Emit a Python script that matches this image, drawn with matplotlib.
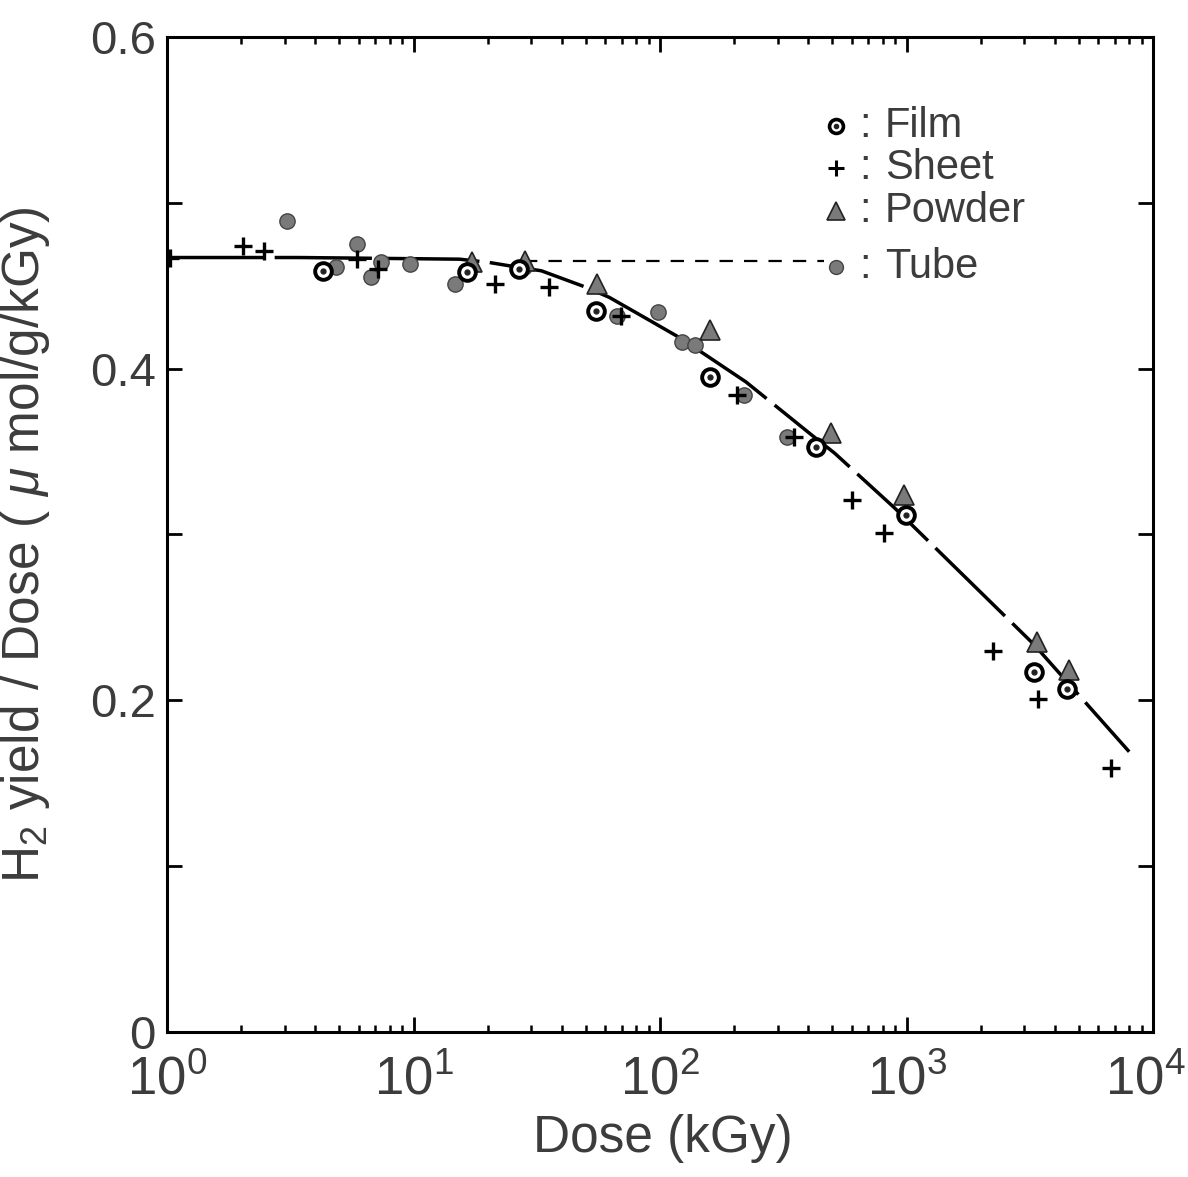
import matplotlib
matplotlib.use("Agg")
import matplotlib.pyplot as plt
from matplotlib import font_manager
import matplotlib.transforms as mtransforms
from matplotlib.ticker import LogLocator, FixedLocator, NullFormatter, FixedFormatter

_names = {f.name for f in font_manager.fontManager.ttflist}
NARROW = 'Liberation Sans Narrow' if 'Liberation Sans Narrow' in _names else 'Liberation Sans'
HAS_NARROW = NARROW == 'Liberation Sans Narrow'

plt.rcParams['font.family'] = ['Liberation Sans', 'DejaVu Sans']
plt.rcParams['mathtext.fontset'] = 'custom'
plt.rcParams['mathtext.rm'] = NARROW
plt.rcParams['mathtext.it'] = 'Liberation Sans:italic'
plt.rcParams['mathtext.default'] = 'regular'

# ---- data ----
film_x = [4.28, 16.5, 26.9, 55.1, 159, 428, 991, 3300, 4490]
film_y = [0.459, 0.458, 0.460, 0.435, 0.395, 0.353, 0.312, 0.217, 0.207]

sheet_x = [1.03, 2.03, 2.47, 5.88, 7.15, 21.5, 35.5, 69.5, 205, 349, 599, 807, 2250, 3420, 6760]
sheet_y = [0.467, 0.474, 0.471, 0.466, 0.460, 0.451, 0.449, 0.432, 0.384, 0.359, 0.321, 0.301, 0.230, 0.201, 0.159]

powder_x = [17.2, 28.4, 55.6, 159, 492, 972, 3390, 4570]
powder_y = [0.464, 0.465, 0.451, 0.423, 0.361, 0.324, 0.235, 0.218]

tube_x = [3.06, 4.83, 5.88, 6.70, 7.35, 9.64, 14.7, 28.1, 67, 98, 123, 139, 219, 327]
tube_y = [0.489, 0.461, 0.475, 0.455, 0.464, 0.463, 0.451, 0.461, 0.432, 0.434, 0.416, 0.414, 0.384, 0.359]

fit_x = [1, 3.45, 15.4, 20.3, 26.9, 33.0, 50.2, 62.2, 88.5, 119, 154, 223, 412, 511, 894, 3270, 8000]
fit_y = [0.467, 0.467, 0.466, 0.464, 0.461, 0.459, 0.449, 0.443, 0.430, 0.419, 0.408, 0.392, 0.360, 0.349, 0.316, 0.234, 0.169]

flat_x = [28.1, 461]
flat_y = [0.465, 0.465]

legend_labels = ['Film', 'Sheet', 'Powder', 'Tube']
y_ticks = [0, 0.1, 0.2, 0.3, 0.4, 0.5, 0.6]
y_ticklabels = ['0', '', '0.2', '', '0.4', '', '0.6']
x_ticks = [1, 10, 100, 1000, 10000]
x_ticklabels = [r'$10^{0}$', r'$10^{1}$', r'$10^{2}$', r'$10^{3}$', r'$10^{4}$']

TXT = '#3c3c3c'
GREY = '#7a7a7a'

fig = plt.figure(figsize=(11.88, 11.77), dpi=100)
ax = fig.add_axes([0.1406, 0.1232, 0.830, 0.8454])

ax.set_xscale('log')
ax.set_xlim(1, 10000)
ax.set_ylim(0, 0.6)

# lines
ax.plot(fit_x, fit_y, color='black', lw=2.5, dashes=(28, 3), zorder=2)
ax.plot(flat_x, flat_y, color='black', lw=1.6, dashes=(6, 5), zorder=2)

# markers
ax.plot(tube_x, tube_y, 'o', ms=11, mfc=GREY, mec='#444444', mew=1.0, ls='none', zorder=3)
ax.plot(powder_x, powder_y, '^', ms=15, mfc=GREY, mec='#222222', mew=1.2, ls='none', zorder=4)
ax.plot(sheet_x, sheet_y, '+', ms=13, mec='black', mew=2.4, ls='none', zorder=5)
ax.plot(film_x, film_y, 'o', ms=12, mfc='white', mec='black', mew=2.8, ls='none', zorder=6)
ax.plot(film_x, film_y, 'o', ms=3.5, mfc='#222222', mec='#222222', ls='none', zorder=7)

# legend (manual, in axes coordinates)
leg_y = [0.911, 0.868, 0.825, 0.769]
mx, cx, tx = 0.678, 0.708, 0.728
ax.plot([mx], [leg_y[0]], 'o', ms=10, mfc='white', mec='black', mew=2.6, transform=ax.transAxes, clip_on=False)
ax.plot([mx], [leg_y[0]], 'o', ms=3, mfc='#222222', mec='#222222', transform=ax.transAxes, clip_on=False)
ax.plot([mx], [leg_y[1]], '+', ms=11, mec='black', mew=2.2, transform=ax.transAxes, clip_on=False)
ax.plot([mx], [leg_y[2]], '^', ms=13, mfc=GREY, mec='#222222', mew=1.2, transform=ax.transAxes, clip_on=False)
ax.plot([mx], [leg_y[3]], 'o', ms=10, mfc=GREY, mec='#444444', mew=1.0, transform=ax.transAxes, clip_on=False)
for yy, lab in zip(leg_y, legend_labels):
    ax.text(cx, yy, ':', transform=ax.transAxes, fontsize=30, color=TXT, va='center', ha='center')
    ax.text(tx, yy, lab, transform=ax.transAxes, fontsize=30, color=TXT, va='center', ha='left')

# ticks
ax.xaxis.set_major_locator(FixedLocator(x_ticks))
ax.xaxis.set_major_formatter(FixedFormatter(x_ticklabels))
ax.xaxis.set_minor_locator(LogLocator(base=10, subs=range(2, 10), numticks=20))
ax.xaxis.set_minor_formatter(NullFormatter())
ax.yaxis.set_major_locator(FixedLocator(y_ticks))
ax.yaxis.set_major_formatter(FixedFormatter(y_ticklabels))

ax.tick_params(which='both', direction='in', top=True, right=True, colors='black', labelcolor=TXT)
ax.tick_params(which='major', length=11, width=2.0)
ax.tick_params(which='minor', length=5, width=1.8)
ax.tick_params(axis='x', which='major', labelsize=(46 if HAS_NARROW else 38), pad=17)
ax.tick_params(axis='y', which='major', labelsize=(40 if HAS_NARROW else 34), pad=8)
for lab in ax.get_yticklabels():
    lab.set_fontfamily([NARROW, 'DejaVu Sans'])

# nudge the last x tick label slightly left so it stays inside the figure
xlabs = ax.get_xticklabels()
xlabs[-1].set_transform(xlabs[-1].get_transform() +
                        mtransforms.ScaledTranslation(-8 / 100, 0, fig.dpi_scale_trans))

for s in ax.spines.values():
    s.set_linewidth(2.2)

ax.set_xlabel('Dose (kGy)', fontsize=37, color=TXT)
ax.xaxis.set_label_coords(0.503, -0.082)
ax.set_ylabel(r'H$_2$ yield / Dose ( $\mathit{\mu}$ mol/g/kGy)', fontsize=37, color=TXT)
ax.yaxis.set_label_coords(-0.117, 0.49)

fig.savefig('out.png', dpi=100)
